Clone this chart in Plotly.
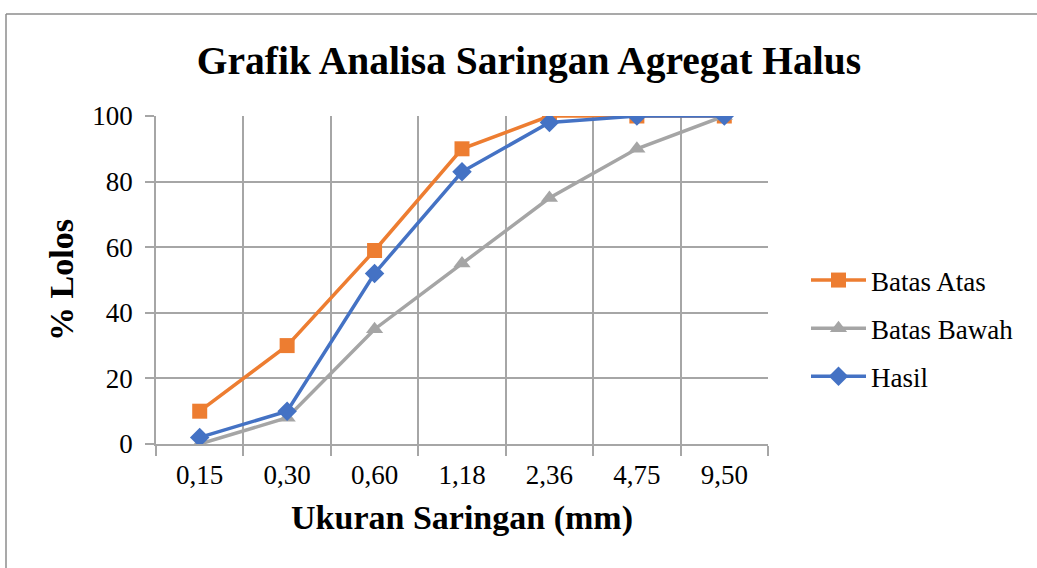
import plotly.graph_objects as go

categories = ["0,15", "0,30", "0,60", "1,18", "2,36", "4,75", "9,50"]
batas_atas = [10, 30, 59, 90, 100, 100, 100]
batas_bawah = [0, 8, 35, 55, 75, 90, 100]
hasil = [2, 10, 52, 83, 98, 100, 100]
y_ticks = [0, 20, 40, 60, 80, 100]

FONT = "Liberation Serif"
W, H = 1037, 568
L, R, T, B = 156, 768, 116, 444

fig = go.Figure()
fig.add_trace(go.Scatter(x=categories, y=batas_atas, name="Batas Atas", mode="lines+markers",
                         legendgroup="a",
                         line=dict(color="#ED7D31", width=3.5),
                         marker=dict(symbol="square", size=15, color="#ED7D31")))
fig.add_trace(go.Scatter(x=categories, y=batas_bawah, name="Batas Bawah", mode="lines+markers",
                         legendgroup="b",
                         line=dict(color="#A5A5A5", width=3.5),
                         marker=dict(symbol="triangle-up", size=15, color="#A5A5A5")))
fig.add_trace(go.Scatter(x=categories, y=hasil, name="Hasil", mode="lines+markers",
                         legendgroup="c",
                         line=dict(color="#4472C4", width=3.5),
                         marker=dict(symbol="diamond", size=15, color="#4472C4")))

pw, ph = R - L, B - T
def px(x):
    return (x - L) / pw
def py(y):
    return (B - y) / ph

fig.update_layout(
    width=W, height=H,
    margin=dict(l=L, r=W - R, t=T, b=H - B),
    paper_bgcolor="white", plot_bgcolor="white",
    font=dict(family=FONT, size=27, color="black"),
    title=dict(text="<b>Grafik Analisa Saringan Agregat Halus</b>", xref="container", x=529 / W,
               xanchor="center", yref="container", y=1 - 60 / H, yanchor="middle",
               font=dict(family=FONT, size=39.5, color="black")),
    xaxis=dict(type="category", categoryorder="array", categoryarray=categories,
               range=[-0.5, len(categories) - 0.5], tickson="boundaries",
               showgrid=True, gridcolor="#A6A6A6", gridwidth=1.5,
               ticks="outside", ticklen=10, tickcolor="#A6A6A6", tickwidth=1.5,
               showline=True, linecolor="#A6A6A6", linewidth=1.5, mirror=False,
               tickfont=dict(family=FONT, size=27), ticklabelstandoff=6,
               title=dict(text="<b>Ukuran Saringan (mm)</b>", font=dict(family=FONT, size=34), standoff=16),
               zeroline=False, fixedrange=True),
    yaxis=dict(range=[0, 100], tickvals=y_ticks, showgrid=True, gridcolor="#A6A6A6", gridwidth=1.5,
               ticks="outside", ticklen=9, tickcolor="#A6A6A6", tickwidth=1.5,
               showline=True, linecolor="#A6A6A6", linewidth=1.5,
               tickfont=dict(family=FONT, size=27), ticklabelstandoff=7,
               title=dict(text="<b>% Lolos</b>", font=dict(family=FONT, size=34), standoff=8),
               zeroline=False, fixedrange=True),
    legend=dict(x=px(806), xanchor="left", y=py(256), yanchor="top",
                font=dict(family=FONT, size=27), itemwidth=55, traceorder="grouped",
                tracegroupgap=10, bgcolor="rgba(0,0,0,0)"),
    showlegend=True,
)

# outer frame (top and left edges, as in the cropped screenshot)
fig.add_shape(type="line", xref="paper", yref="paper", x0=px(6), x1=px(W + 5), y0=py(14), y1=py(14),
              line=dict(color="#8C8C8C", width=1.5))
fig.add_shape(type="line", xref="paper", yref="paper", x0=px(6), x1=px(6), y0=py(14), y1=py(H + 5),
              line=dict(color="#8C8C8C", width=1.5))

fig.write_html("out.html", config={"displayModeBar": False},
               post_script="document.body.style.margin='0';")
